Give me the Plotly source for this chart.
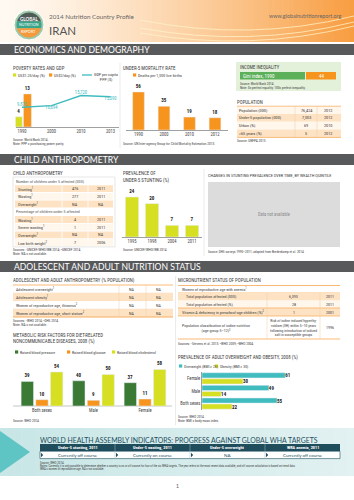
import plotly.graph_objects as go

W, H = 354, 500

# ---------------- data ----------------
pov_years = ['1990', '2000', '2010', '2013']
pov_125 = [4, None, None, None]
pov_2 = [13, None, None, None]
gdp_ppp = [9876, 10694, 15720, 15090]

u5mr_years = ['1990', '2000', '2010', '2012']
u5mr = [56, 35, 19, 18]

gini_label = 'Gini index, 1990'
gini_value = '44'

pop_labels = ['Population (000)', 'Under-5 population (000)', 'Urban (%)', '>65 years (%)']
pop_values = ['76,424', '7,003', '69', '5']
pop_years = ['2012', '2012', '2010', '2012']

anthro_num_labels = ['Stunting<sup>1</sup>', 'Wasting<sup>1</sup>', 'Overweight<sup>1</sup>']
anthro_num_values = ['476', '277', 'NA']
anthro_num_years = ['2011', '2011', 'NA']
anthro_pct_labels = ['Wasting<sup>1</sup>', 'Severe wasting<sup>1</sup>', 'Overweight<sup>1</sup>',
                     'Low birth weight<sup>2</sup>']
anthro_pct_values = ['4', '1', 'NA', '7']
anthro_pct_years = ['2011', '2011', 'NA', '2006']

stunt_years = ['1995', '1998', '2004', '2011']
stunt = [24, 20, 7, 7]

adol_labels = ['Adolescent overweight<sup>1</sup>', 'Adolescent obesity<sup>1</sup>',
               'Women of reproductive age, thinness<sup>2</sup>',
               'Women of reproductive age, short stature<sup>2</sup>']
adol_values = ['NA', 'NA', 'NA', 'NA']
adol_years = ['NA', 'NA', 'NA', 'NA']

metab_groups = ['Both sexes', 'Male', 'Female']
raised_bp = [39, 40, 37]
raised_glucose = [10, 9, 11]
raised_chol = [54, 50, 58]

micro_rows = ['Total population affected (000)', 'Total population affected (%)']
micro_values = ['6,393', '28']
micro_years = ['2011', '2011']
vita_label = 'Vitamin A deficiency in preschool-age children (%)<sup>2</sup>'
vita_value = '1'
vita_year = '2001'
iodine_label = 'Population classification of iodine nutrition<br>(age group 5–12)<sup>3</sup>'
iodine_value = ('Risk of iodine induced hyperthy-<br>roidism (IIH) within 5–10 years<br>'
                'following introduction of iodized<br>salt in susceptible groups')
iodine_year = '1996'

ow_groups = ['Female', 'Male', 'Both sexes']
overweight = [61, 49, 55]
obesity = [30, 14, 22]

wha_headers = ['Under-5 stunting, 2011', 'Under-5 wasting, 2011', 'Under-5 overweight', 'WRA anemia, 2011']
wha_status = ['Currently off course', 'Currently on course', 'NA', 'Currently off course']

# ---------------- style ----------------
BODY = "Liberation Sans Narrow, Arial Narrow, Roboto Condensed, Liberation Sans, sans-serif"
HEAD = "Lato, Open Sans, sans-serif"
YEL = '#d7df23'
ORG = '#f7941d'
TEAL = '#40bcbf'
DGREEN = '#3b7a34'
BAND = '#58595b'
BEIGE = '#fde3c4'
LBEIGE = '#fff6ec'
OLINE = '#f7a752'
TXT = '#3a3a3a'

shapes = []
ann = []


def X(x):
    return x / W


def Y(y):
    return 1 - y / H


def rect(x0, y0, x1, y1, fill, line=None, lw=0):
    shapes.append(dict(type='rect', xref='paper', yref='paper', x0=X(x0), x1=X(x1), y0=Y(y1), y1=Y(y0),
                       fillcolor=fill, line=dict(width=lw, color=line or fill), layer='below'))


def seg(x0, y0, x1, y1, color, w=0.5):
    shapes.append(dict(type='line', xref='paper', yref='paper', x0=X(x0), x1=X(x1), y0=Y(y0), y1=Y(y1),
                       line=dict(width=w, color=color), layer='below'))


def poly(pts, fill, line=None, lw=0):
    p = 'M ' + ' L '.join(f'{X(a):.5f},{Y(b):.5f}' for a, b in pts) + ' Z'
    shapes.append(dict(type='path', xref='paper', yref='paper', path=p, fillcolor=fill,
                       line=dict(width=lw, color=line or fill), layer='below'))


def T(x, y, s, size=4.4, color=TXT, anchor='left', fam=BODY, yanchor='middle', align=None):
    d = dict(x=X(x), y=Y(y), xref='paper', yref='paper', text=s, showarrow=False, xanchor=anchor,
             yanchor=yanchor, font=dict(size=size, color=color, family=fam), borderpad=0, borderwidth=0)
    if align:
        d['align'] = align
    ann.append(d)


def lerp(c1, c2, t):
    return 'rgb(%d,%d,%d)' % tuple(round(a + (b - a) * t) for a, b in zip(c1, c2))


# ---------------- header ----------------
N = 70
for i in range(N):
    t = (i / (N - 1)) ** 1.3
    rect(i * W / N, 0, (i + 1) * W / N + 0.6, 42, lerp((255, 249, 242), (248, 158, 66), t))
for k, (a, b) in enumerate([(28, 36), (33, 40), (20, 30)]):
    shapes.append(dict(type='path', xref='paper', yref='paper', layer='below',
                       path=f'M {X(140):.4f},{Y(a):.4f} Q {X(250):.4f},{Y(b + 12):.4f} {X(354):.4f},{Y(b - 14):.4f}',
                       line=dict(width=1, color='rgba(255,244,200,0.75)')))

# logo
cx, cy, r = 29, 25, 15
shapes.append(dict(type='circle', xref='paper', yref='paper', x0=X(cx - r), x1=X(cx + r), y0=Y(cy + r),
                   y1=Y(cy - r), fillcolor='#9fc9aa', line=dict(width=1, color='white'), layer='below'))


def disc_seg(cx, cy, r, ya, yb, n=16):
    import math
    left, right = [], []
    for j in range(n + 1):
        yy = ya + (yb - ya) * j / n
        dx = math.sqrt(max(r * r - (yy - cy) ** 2, 0))
        left.append((cx - dx, yy))
        right.append((cx + dx, yy))
    return left + right[::-1]


ri = 12.5
poly(disc_seg(cx, cy, ri, cy - ri, 21.5), '#4e5b56')
poly(disc_seg(cx, cy, ri, 21.5, 28.2), '#3aa58b')
poly(disc_seg(cx, cy, ri, 28.2, cy + ri), '#f39a3c')
T(cx, 18.5, '<b>GLOBAL</b>', size=4.6, color='white', anchor='center', fam=HEAD)
T(cx, 24.8, 'NUTRITION', size=3.6, color='white', anchor='center', fam=HEAD)
T(cx, 31, 'REPORT', size=3.8, color='white', anchor='center', fam=HEAD)

T(49, 16, '2014 Nutrition Country Profile', size=6.3, color='#666', fam=HEAD)
T(49, 30, 'IRAN', size=11.5, color='#555', fam=HEAD)
T(341, 16, 'www.globalnutritionreport.org', size=5.4, color='#666', anchor='right', fam=HEAD)


def band(y0, y1, label):
    rect(0, y0, W, y1, BAND)
    T(14, (y0 + y1) / 2 + 0.3, label, size=8.6, color='white', fam=HEAD)


band(44, 55, 'ECONOMICS AND DEMOGRAPHY')
band(154, 165, 'CHILD ANTHROPOMETRY')
band(261, 272, 'ADOLESCENT AND ADULT NUTRITION STATUS')


def sq(x, y, c, s=3.2):
    rect(x, y - s / 2, x + s, y + s / 2, c)


# ---------------- section 1 ----------------
T(13, 68, 'POVERTY RATES AND GDP', size=4.9)
sq(13, 75, YEL)
T(17.5, 75, 'US$1.25/day (%)', size=4.1)
sq(49, 75, ORG)
T(53.5, 75, 'US$2/day (%)', size=4.1)
seg(82, 75, 92, 75, TEAL, 1.3)
T(94, 77, 'GDP per capita<br>PPP ($)', size=4.1)
T(13, 139.5, 'Source: World Bank 2014.', size=3.5)
T(13, 143.8, 'Note: PPP = purchasing power parity.', size=3.5)
seg(120, 63, 120, 148, '#d6d6d6', 0.5)

T(123, 68, 'UNDER-5 MORTALITY RATE', size=4.9)
sq(133, 75, ORG)
T(137.5, 75, 'Deaths per 1,000 live births', size=4.1)
T(123, 143.8, 'Source: UN Inter-agency Group for Child Mortality Estimation 2013.', size=3.5)

# income inequality box
rect(236, 62, 341, 91, '#e4f1da')
T(240, 67.8, 'INCOME INEQUALITY', size=4.7)
rect(240, 72, 305, 79.5, '#5db05a')
rect(306, 72, 336, 79.5, ORG)
T(243, 75.8, gini_label, size=5, color='white')
T(321, 75.8, gini_value, size=5, color='white', anchor='center')
T(240, 84, 'Source: World Bank 2014.', size=3.4)
T(240, 87.6, 'Note: 0= perfect equality; 100= perfect inequality.', size=3.4)

# population table
T(237, 101.5, 'POPULATION', size=4.9)
ty, rh = 106.2, 7.8
for i, (lab, val, yr) in enumerate(zip(pop_labels, pop_values, pop_years)):
    y0 = ty + i * rh
    rect(237, y0, 341, y0 + rh, BEIGE if i % 2 else LBEIGE)
    T(239, y0 + rh / 2, lab, size=4.3)
    T(306, y0 + rh / 2, val, size=4.3, anchor='center')
    T(328.5, y0 + rh / 2, yr, size=4.3, anchor='center')
seg(237, ty, 341, ty, OLINE, 0.7)
seg(237, ty + 4 * rh, 341, ty + 4 * rh, OLINE, 0.7)
seg(295, ty, 295, ty + 4 * rh, '#f3c9a0', 0.5)
seg(317, ty, 317, ty + 4 * rh, '#f3c9a0', 0.5)
T(237, 141, 'Source: UNFPA 2013.', size=3.5)

# ---------------- section 2 ----------------
T(13, 173, 'CHILD ANTHROPOMETRY', size=4.9)
ty, rh = 177, 7.7
rect(13, ty, 115, ty + 9 * rh + 0.6, 'white', '#cfcfcf', 0.5)
rows = [('Number of children under 5 affected (000)', None, None, 'h')]
rows += [(a, b, c, i) for i, (a, b, c) in enumerate(zip(anthro_num_labels, anthro_num_values, anthro_num_years))]
rows += [('Percentage of children under 5 affected', None, None, 'h')]
rows += [(a, b, c, i) for i, (a, b, c) in enumerate(zip(anthro_pct_labels, anthro_pct_values, anthro_pct_years))]
for k, (lab, val, yr, kind) in enumerate(rows):
    y0 = ty + k * rh
    yc = y0 + rh / 2 + 0.2
    if kind == 'h':
        T(16, yc, lab, size=4.1, color='#555')
    else:
        rect(15, y0 + 0.5, 113, y0 + rh - 0.3, BEIGE if kind % 2 == 0 else LBEIGE)
        seg(62, y0 + 0.5, 62, y0 + rh - 0.3, 'white', 0.8)
        seg(88, y0 + 0.5, 88, y0 + rh - 0.3, 'white', 0.8)
        T(18, yc, lab, size=4.2)
        T(75, yc, val, size=4.2, anchor='center')
        T(100.5, yc, yr, size=4.2, anchor='center')
T(13, 250, 'Sources: <sup>1</sup>UNICEF/WHO/WB 2014; <sup>2</sup>UNICEF 2014.', size=3.5)
T(13, 254.2, 'Note: NA = not available.', size=3.5)

T(123, 173, 'PREVALENCE OF', size=4.9)
T(123, 180, 'UNDER-5 STUNTING (%)', size=4.9)
T(123, 250, 'Source: UNICEF/WHO/WB 2014.', size=3.5)
seg(204, 169, 204, 256, '#d6d6d6', 0.5)

T(208, 175, 'CHANGES IN STUNTING PREVALENCE OVER TIME, BY WEALTH QUINTILE', size=4.3)
rect(208, 182, 340, 247, '#dcdcdd')
T(274, 214.5, 'Data not available', size=4.5, color='#8a8a8a', anchor='center')
T(208, 252, 'Source: DHS surveys 1990–2011; adapted from Bredenkamp et al. 2014.', size=3.4)

# ---------------- section 3 ----------------
T(13, 280, 'ADOLESCENT AND ADULT ANTHROPOMETRY (% POPULATION)', size=4.9)
ty, rh = 285, 8
for i, (lab, v1, v2) in enumerate(zip(adol_labels, adol_values, adol_years)):
    y0 = ty + i * rh
    rect(13, y0, 173, y0 + rh, BEIGE if i % 2 else 'white')
    T(16, y0 + rh / 2 + 0.2, lab, size=4.1)
    T(132, y0 + rh / 2 + 0.2, v1, size=4.1, anchor='center')
    T(159, y0 + rh / 2 + 0.2, v2, size=4.1, anchor='center')
    seg(13, y0 + rh, 173, y0 + rh, '#f6d0a8', 0.4)
seg(13, ty, 173, ty, OLINE, 0.8)
seg(13, ty + 4 * rh, 173, ty + 4 * rh, OLINE, 0.8)
seg(146, ty, 146, ty + 4 * rh, '#f3c9a0', 0.5)
seg(119, ty, 119, ty + 4 * rh, '#f3c9a0', 0.5)
T(13, 321, 'Sources: <sup>1</sup>WHO 2014; <sup>2</sup>DHS 2014.', size=3.5)
T(13, 325, 'Note: NA = not available.', size=3.5)

T(13, 334.5, 'METABOLIC RISK FACTORS FOR DIET-RELATED', size=4.9)
T(13, 341, 'NONCOMMUNICABLE DISEASES, 2008 (%)', size=4.9)
sq(15, 352, DGREEN)
T(19.5, 352, 'Raised blood pressure', size=4.0)
sq(67, 352, ORG)
T(71.5, 352, 'Raised blood glucose', size=4.0)
sq(112, 352, YEL)
T(116.5, 352, 'Raised blood cholesterol', size=4.0)
seg(13, 406, 172, 406, '#a0a0a0', 0.6)
T(13, 420.5, 'Source: WHO 2014.', size=3.5)
seg(175.5, 276, 175.5, 425, '#d6d6d6', 0.5)

# micronutrient table
T(178, 280, 'MICRONUTRIENT STATUS OF POPULATION', size=4.9)
seg(178, 285.5, 340, 285.5, OLINE, 0.8)
T(182, 289, 'Women of reproductive age with anemia<sup>1</sup>', size=4.0)
seg(178, 292.8, 340, 292.8, OLINE, 0.5)
for i, (lab, v, yr) in enumerate(zip(micro_rows, micro_values, micro_years)):
    y0 = 293 + i * 7.5
    rect(178, y0, 340, y0 + 7.5, BEIGE if i == 0 else LBEIGE)
    T(186, y0 + 3.9, lab, size=4.1)
    T(293.5, y0 + 3.9, v, size=4.1, anchor='center')
    T(330, y0 + 3.9, yr, size=4.1, anchor='center')
rect(178, 308, 340, 316, BEIGE)
seg(178, 308, 340, 308, OLINE, 0.7)
seg(178, 316, 340, 316, OLINE, 0.7)
T(182, 312.2, vita_label, size=4.1)
T(293.5, 312.2, vita_value, size=4.1, anchor='center')
T(330, 312.2, vita_year, size=4.1, anchor='center')
T(182, 327.5, iodine_label, size=4.0)
T(293.5, 327.5, iodine_value, size=3.7, anchor='center', align='center')
T(330, 327.5, iodine_year, size=4.1, anchor='center')
seg(178, 339, 340, 339, OLINE, 0.8)
seg(267, 293, 267, 339, '#f3c9a0', 0.5)
seg(320, 293, 320, 339, '#f3c9a0', 0.5)
T(178, 344, 'Sources: <sup>1</sup>Stevens et al. 2013; <sup>2</sup>WHO 2009; <sup>3</sup>WHO 2004.', size=3.5)

T(178, 357.5, 'PREVALENCE OF ADULT OVERWEIGHT AND OBESITY, 2008 (%)', size=4.9)
sq(179, 366, TEAL)
T(183.5, 366, 'Overweight (BMI ≥ 25)', size=3.9)
sq(215, 366, YEL)
T(219.5, 366, 'Obesity (BMI ≥ 30)', size=3.9)
T(178, 416.5, 'Source: WHO 2014.', size=3.5)
T(178, 420.7, 'Note: BMI = body mass index.', size=3.5)

# ---------------- WHA ----------------
N2 = 50
for i in range(N2):
    t = i / (N2 - 1)
    rect(i * W / N2, 428, (i + 1) * W / N2 + 0.6, 476, lerp((200, 230, 230), (226, 241, 241), t))
poly([(0, 431), (30, 452), (0, 473)], '#5fc4c4')
T(40, 439.5, 'WORLD HEALTH ASSEMBLY INDICATORS: PROGRESS AGAINST GLOBAL WHA TARGETS', size=6.9,
  color='#1f4f5e', fam=HEAD)
edges = [40, 115, 190, 265, 340]
rect(40, 444, 340, 451.3, '#1f4d5c')
rect(40, 451.3, 340, 458.6, 'white', '#1f4d5c', 0.6)
for i, (hd, st) in enumerate(zip(wha_headers, wha_status)):
    a, b = edges[i], edges[i + 1]
    T((a + b) / 2, 447.8, '<b>' + hd + '</b>', size=4.3, color='white', anchor='center')
    T((a + b) / 2, 455.1, st, size=4.5, color='#1f4d5c', anchor='center', fam=HEAD)
    poly([(a + 1, 452.8), (a + 3.2, 455), (a + 1, 457.2)], '#1f4d5c')
    if i:
        seg(a, 444, a, 458.6, '#9fb9c0', 0.5)
T(40, 463.2, 'Source: WHO 2014.', size=3.2)
T(40, 466.3, 'Notes: Currently it is only possible to determine whether a country is on or off course for four of the six WHA targets. '
  'The year refers to the most recent data available, and off course calculation is based on trend data.', size=3.0)
T(40, 469.4, 'WRA = women of reproductive age. NA = not available.', size=3.0)
T(177, 486, '1', size=5, anchor='center', fam=HEAD, color='#555')

# ---------------- traces ----------------
lab_font = dict(size=5, color='#222', family=BODY)
fig = go.Figure()
fig.add_trace(go.Bar(x=pov_years, y=pov_125, marker_color=YEL, offset=-0.23, width=0.24,
                     texttemplate='<b>%{y}</b>', textposition='outside', textfont=lab_font,
                     constraintext='none', cliponaxis=False, xaxis='x', yaxis='y', hoverinfo='skip'))
fig.add_trace(go.Bar(x=pov_years, y=pov_2, marker_color=ORG, offset=0.05, width=0.27,
                     texttemplate='<b>%{y}</b>', textposition='outside', textfont=lab_font,
                     constraintext='none', cliponaxis=False, xaxis='x', yaxis='y', hoverinfo='skip'))
fig.add_trace(go.Scatter(x=pov_years, y=gdp_ppp, mode='lines+text', line=dict(color=TEAL, width=1.4),
                         texttemplate='%{y:,}', textposition=['top center', 'bottom center', 'top center', 'bottom center'],
                         textfont=dict(size=4.6, color=TEAL, family=BODY), cliponaxis=False,
                         xaxis='x', yaxis='y2', hoverinfo='skip'))
fig.add_trace(go.Bar(x=u5mr_years, y=u5mr, marker_color=ORG, width=0.46,
                     texttemplate='<b>%{y}</b>', textposition='outside', textfont=lab_font,
                     constraintext='none', cliponaxis=False, xaxis='x2', yaxis='y3', hoverinfo='skip'))
fig.add_trace(go.Bar(x=stunt_years, y=stunt, marker_color=YEL, width=0.66,
                     texttemplate='<b>%{y}</b>', textposition='outside', textfont=lab_font,
                     constraintext='none', cliponaxis=False, xaxis='x3', yaxis='y4', hoverinfo='skip'))
for vals, col, off in [(raised_bp, DGREEN, -0.405), (raised_glucose, ORG, -0.12), (raised_chol, YEL, 0.165)]:
    fig.add_trace(go.Bar(x=metab_groups, y=vals, marker_color=col, offset=off, width=0.24,
                         texttemplate='<b>%{y}</b>', textposition='outside', textfont=lab_font,
                         constraintext='none', cliponaxis=False, xaxis='x4', yaxis='y5', hoverinfo='skip'))
for vals, col, off in [(overweight, TEAL, -0.44), (obesity, YEL, 0.04)]:
    fig.add_trace(go.Bar(y=ow_groups, x=vals, orientation='h', marker_color=col, offset=off, width=0.41,
                         texttemplate='<b>%{x}</b>', textposition='outside', textfont=lab_font,
                         constraintext='none', cliponaxis=False, xaxis='x5', yaxis='y6', hoverinfo='skip'))

tick = dict(size=4.6, color='#444', family=BODY)
cat_x = dict(type='category', showgrid=False, zeroline=False, ticks='', showline=True, linecolor='#a0a0a0',
             linewidth=0.6, tickfont=tick, fixedrange=True)
hid = dict(visible=False, showgrid=False, zeroline=False, fixedrange=True)

fig.update_layout(
    width=W, height=H, margin=dict(l=0, r=0, t=0, b=0),
    paper_bgcolor='white', plot_bgcolor='rgba(0,0,0,0)',
    showlegend=False, barmode='overlay',
    font=dict(family=BODY, size=5, color=TXT),
    shapes=shapes, annotations=ann,
    xaxis=dict(cat_x, domain=[X(15.5), X(118.75)], range=[-0.22, 3.28], anchor='y',
               categoryorder='array', categoryarray=pov_years),
    yaxis=dict(hid, domain=[Y(127), Y(86)], range=[0, 16.1], anchor='x'),
    yaxis2=dict(hid, overlaying='y', range=[0, 20500], anchor='x'),
    xaxis2=dict(cat_x, domain=[X(125.75), X(227.75)], range=[-0.5, 3.5], anchor='y3',
                categoryorder='array', categoryarray=u5mr_years),
    yaxis3=dict(hid, domain=[Y(130), Y(86)], range=[0, 64.8], anchor='x2'),
    xaxis3=dict(cat_x, domain=[X(122), X(202)], range=[-0.5, 3.5], anchor='y4',
                categoryorder='array', categoryarray=stunt_years),
    yaxis4=dict(hid, domain=[Y(237), Y(188)], range=[0, 29.4], anchor='x3'),
    xaxis4=dict(cat_x, showline=False, domain=[X(16.25), X(170.75)], range=[-0.5, 2.5], anchor='y5',
                categoryorder='array', categoryarray=metab_groups),
    yaxis5=dict(hid, domain=[Y(406), Y(360)], range=[0, 73], anchor='x4'),
    xaxis5=dict(hid, domain=[X(202), X(330)], range=[0, 93.8], anchor='y6'),
    yaxis6=dict(cat_x, domain=[Y(409.8), Y(372)], range=[2.5, -0.5], anchor='x5',
                categoryorder='array', categoryarray=ow_groups),
)

fig.write_html('out.html')
